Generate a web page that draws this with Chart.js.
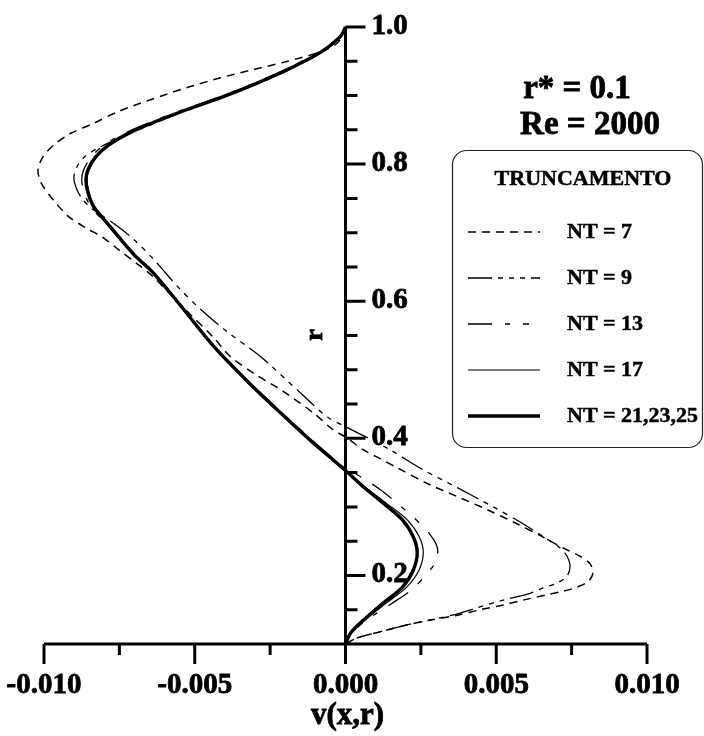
<!DOCTYPE html>
<html>
<head>
<meta charset="utf-8">
<script src="https://cdn.jsdelivr.net/npm/chart.js@4.4.1/dist/chart.umd.min.js"></script>
<style>
  body { margin: 0; background: #fff; }
</style>
</head>
<body>
<canvas id="perfil" width="704" height="736"></canvas>
<script>
// perfil v(x,r) para r* = 0.1, Re = 2000, varios truncamentos
const nt7V = [0, -0.00026, -0.00083, -0.00192, -0.00305, -0.00414, -0.00523, -0.00646, -0.00752, -0.00838,
  -0.00911, -0.00967, -0.01003, -0.01020, -0.01010, -0.00970, -0.00917, -0.00861, -0.00805, -0.00752,
  -0.00695, -0.00646, -0.00579, -0.00513, -0.00440, -0.00381, -0.00298, -0.00215, -0.00106, -0.00040,
  0, 0.00060, 0.00116, 0.00172, 0.00272, 0.00371, 0.00470, 0.00570, 0.00646, 0.00722,
  0.00778, 0.00811, 0.00821, 0.00805, 0.00762, 0.00722, 0.00669, 0.00589, 0.00523, 0.00447,
  0.00371, 0.00281, 0.00205, 0.00116, 0.00040, 0];
const nt7R = [1.000, 0.977, 0.964, 0.950, 0.938, 0.926, 0.912, 0.894, 0.877, 0.859,
  0.845, 0.828, 0.811, 0.792, 0.773, 0.748, 0.723, 0.707, 0.693, 0.675,
  0.656, 0.639, 0.609, 0.580, 0.548, 0.519, 0.493, 0.471, 0.437, 0.412,
  0.402, 0.383, 0.370, 0.357, 0.334, 0.315, 0.296, 0.275, 0.258, 0.240,
  0.228, 0.217, 0.204, 0.191, 0.182, 0.177, 0.172, 0.164, 0.157, 0.150,
  0.142, 0.135, 0.128, 0.118, 0.109, 0.100];

const nt9V = [0, -0.00023, -0.00089, -0.00199, -0.00315, -0.00430, -0.00546, -0.00652, -0.00745, -0.00818,
  -0.00864, -0.00891, -0.00901, -0.00891, -0.00871, -0.00844, -0.00811, -0.00755, -0.00702, -0.00636,
  -0.00556, -0.00480, -0.00391, -0.00281, -0.00149, -0.00060, 0, 0.00073, 0.00149, 0.00258,
  0.00371, 0.00490, 0.00579, 0.00662, 0.00712, 0.00735, 0.00745, 0.00735, 0.00702, 0.00656,
  0.00613, 0.00523, 0.00437, 0.00371, 0.00281, 0.00205, 0.00116, 0.00040, 0];
const nt9R = [1.000, 0.982, 0.960, 0.935, 0.913, 0.894, 0.875, 0.856, 0.839, 0.824,
  0.811, 0.796, 0.780, 0.763, 0.748, 0.736, 0.726, 0.709, 0.690, 0.661,
  0.621, 0.588, 0.555, 0.519, 0.466, 0.431, 0.417, 0.401, 0.383, 0.354,
  0.328, 0.300, 0.278, 0.255, 0.240, 0.228, 0.214, 0.199, 0.189, 0.182,
  0.174, 0.164, 0.153, 0.144, 0.135, 0.128, 0.118, 0.109, 0.100];

const nt13V = [0, -0.00020, -0.00090, -0.00200, -0.00315, -0.00425, -0.00535, -0.00648, -0.00742, -0.00800,
  -0.00843, -0.00868, -0.00875, -0.00866, -0.00848, -0.00826, -0.00790, -0.00748, -0.00696, -0.00640,
  -0.00545, -0.00436, -0.00322, -0.00210, -0.00100, -0.00045, 0, 0.00050, 0.00116, 0.00172,
  0.00225, 0.00280, 0.00305, 0.00300, 0.00275, 0.00222, 0.00150, 0.00070, 0.00020, 0];
const nt13R = [1.000, 0.986, 0.963, 0.938, 0.916, 0.897, 0.880, 0.861, 0.843, 0.828,
  0.811, 0.792, 0.777, 0.758, 0.740, 0.728, 0.711, 0.690, 0.665, 0.642,
  0.593, 0.534, 0.483, 0.437, 0.393, 0.372, 0.356, 0.344, 0.325, 0.305,
  0.285, 0.260, 0.240, 0.220, 0.205, 0.180, 0.158, 0.135, 0.115, 0.100];

const nt17V = [0, -0.00017, -0.00080, -0.00188, -0.00300, -0.00410, -0.00520, -0.00632, -0.00725, -0.00782,
  -0.00825, -0.00850, -0.00857, -0.00850, -0.00835, -0.00815, -0.00782, -0.00742, -0.00692, -0.00636,
  -0.00543, -0.00434, -0.00322, -0.00212, -0.00103, -0.00047, 0, 0.00065, 0.00136, 0.00205,
  0.00245, 0.00258, 0.00244, 0.00203, 0.00136, 0.00064, 0.00018, 0];
const nt17R = [1.000, 0.986, 0.963, 0.938, 0.916, 0.897, 0.880, 0.861, 0.843, 0.828,
  0.811, 0.792, 0.777, 0.758, 0.740, 0.728, 0.711, 0.690, 0.665, 0.642,
  0.593, 0.534, 0.483, 0.437, 0.393, 0.372, 0.353, 0.329, 0.305, 0.281,
  0.256, 0.233, 0.208, 0.183, 0.160, 0.135, 0.116, 0.100];

const nt21V = [0, -0.00017, -0.00083, -0.00192, -0.00305, -0.00414, -0.00523, -0.00636, -0.00728, -0.00785,
  -0.00828, -0.00854, -0.00861, -0.00854, -0.00838, -0.00818, -0.00785, -0.00745, -0.00695, -0.00639,
  -0.00546, -0.00437, -0.00325, -0.00215, -0.00106, -0.00050, 0, 0.00060, 0.00126, 0.00189,
  0.00225, 0.00238, 0.00225, 0.00189, 0.00126, 0.00060, 0.00017, 0];
const nt21R = [1.000, 0.986, 0.963, 0.938, 0.916, 0.897, 0.880, 0.861, 0.843, 0.828,
  0.811, 0.792, 0.777, 0.758, 0.740, 0.728, 0.711, 0.690, 0.665, 0.642,
  0.593, 0.534, 0.483, 0.437, 0.393, 0.372, 0.353, 0.329, 0.305, 0.281,
  0.256, 0.233, 0.208, 0.183, 0.160, 0.135, 0.116, 0.100];

const legendLabels = ['NT = 7', 'NT = 9', 'NT = 13', 'NT = 17', 'NT = 21,23,25'];
const xTicks = [-0.010, -0.005, 0.000, 0.005, 0.010];
const xTickLabels = ['-0.010', '-0.005', '0.000', '0.005', '0.010'];
const yTicks = [0.2, 0.4, 0.6, 0.8, 1.0];
const yTickLabels = ['0.2', '0.4', '0.6', '0.8', '1.0'];

const serif = '"Liberation Serif", "Times New Roman", serif';

function pts(vs, rs) {
  return vs.map((v, i) => ({ x: v, y: rs[i] }));
}

function serie(label, vs, rs, width, dash) {
  return {
    label: label,
    data: pts(vs, rs),
    showLine: true,
    borderColor: '#000',
    borderWidth: width,
    borderDash: dash,
    pointRadius: 0,
    tension: 0.3,
    fill: false,
    clip: false
  };
}

// texto um pouco mais cheio, como no original
function texto(ctx, s, x, y, stroke) {
  ctx.fillText(s, x, y);
  if (stroke) {
    ctx.lineWidth = stroke;
    ctx.strokeText(s, x, y);
  }
}

const eixos = {
  id: 'eixos',
  afterDraw(chart) {
    const ctx = chart.ctx;
    const x = chart.scales.x, y = chart.scales.y;
    const x0 = x.getPixelForValue(0);
    const yb = y.getPixelForValue(0.1);
    ctx.save();
    ctx.strokeStyle = '#000';
    ctx.lineWidth = 3;

    // eixo v
    ctx.beginPath();
    ctx.moveTo(x.getPixelForValue(-0.010), yb);
    ctx.lineTo(x.getPixelForValue(0.010), yb);
    for (let i = -4; i <= 4; i++) {
      const px = x.getPixelForValue(i * 0.0025);
      ctx.moveTo(px, yb);
      ctx.lineTo(px, yb + (i % 2 === 0 ? 20 : 11));
    }
    ctx.stroke();

    // eixo r
    ctx.beginPath();
    ctx.moveTo(x0, yb);
    ctx.lineTo(x0, y.getPixelForValue(1.0));
    for (let i = 3; i <= 20; i++) {
      const py = y.getPixelForValue(i * 0.05);
      ctx.moveTo(x0, py);
      ctx.lineTo(x0 + (i % 4 === 0 ? 20 : 12), py);
    }
    ctx.stroke();

    ctx.fillStyle = '#000';
    ctx.font = 'bold 29px ' + serif;
    ctx.textAlign = 'center';
    ctx.textBaseline = 'alphabetic';
    xTicks.forEach((v, i) => texto(ctx, xTickLabels[i], x.getPixelForValue(v), 693, 0.8));
    ctx.textAlign = 'left';
    yTicks.forEach((r, i) => texto(ctx, yTickLabels[i], x0 + 26, y.getPixelForValue(r) + 7, 0.8));

    ctx.font = 'bold 31px ' + serif;
    ctx.textAlign = 'center';
    texto(ctx, 'v(x,r)', x0 + 2, 724, 0.8);

    ctx.save();
    ctx.translate(322, 335);
    ctx.rotate(-Math.PI / 2);
    ctx.font = 'bold 26px ' + serif;
    texto(ctx, 'r', 0, 0, 0.8);
    ctx.restore();

    ctx.font = 'bold 33px ' + serif;
    texto(ctx, 'r* = 0.1', 577, 98, 0.8);
    texto(ctx, 'Re = 2000', 590, 134, 0.8);

    // caixa da legenda
    ctx.lineWidth = 1.2;
    ctx.strokeStyle = '#222';
    ctx.beginPath();
    ctx.roundRect(452.5, 150.5, 250, 297, 14);
    ctx.stroke();
    ctx.strokeStyle = '#000';

    ctx.font = 'bold 22px ' + serif;
    texto(ctx, 'TRUNCAMENTO', 583, 185, 0.5);
    ctx.textAlign = 'left';
    chart.data.datasets.forEach((ds, i) => {
      const base = 238 + i * 46;
      ctx.save();
      ctx.lineWidth = ds.borderWidth;
      ctx.setLineDash(ds.borderDash || []);
      ctx.beginPath();
      ctx.moveTo(468, base - 6);
      ctx.lineTo(540, base - 6);
      ctx.stroke();
      ctx.restore();
      texto(ctx, legendLabels[i], 567, base, 0.5);
    });
    ctx.restore();
  }
};

new Chart(document.getElementById('perfil'), {
  type: 'scatter',
  data: {
    datasets: [
      serie(legendLabels[0], nt7V, nt7R, 1.5, [8, 6]),
      serie(legendLabels[1], nt9V, nt9R, 1.3, [24, 6, 5, 6, 5, 6, 5, 6]),
      serie(legendLabels[2], nt13V, nt13R, 1.3, [24, 13, 5, 13, 6, 13]),
      serie(legendLabels[3], nt17V, nt17R, 1.2, []),
      serie(legendLabels[4], nt21V, nt21R, 3.4, [])
    ]
  },
  options: {
    responsive: false,
    devicePixelRatio: 1,
    animation: false,
    layout: { padding: { left: 44, right: 57, top: 27, bottom: 92 } },
    plugins: { legend: { display: false }, tooltip: { enabled: false } },
    scales: {
      x: { type: 'linear', min: -0.010, max: 0.010, display: false },
      y: { type: 'linear', min: 0.1, max: 1.0, display: false }
    }
  },
  plugins: [eixos]
});
</script>
</body>
</html>
